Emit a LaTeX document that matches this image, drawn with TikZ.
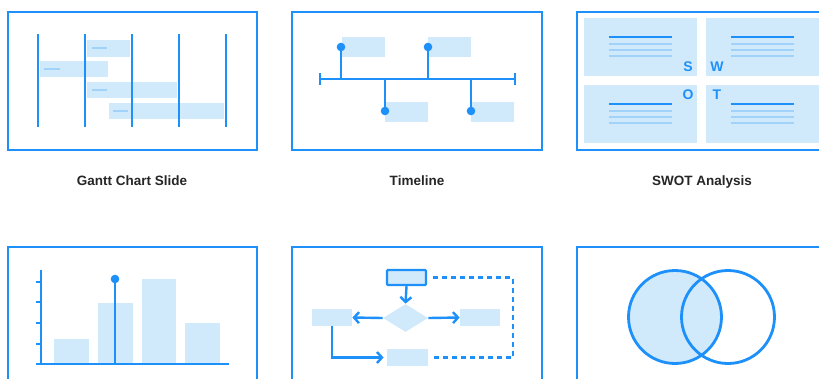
\documentclass[tikz,border=0pt]{standalone}
\usepackage{fontspec}
\setmainfont{Liberation Sans}
\usetikzlibrary{arrows.meta}
\usetikzlibrary{shapes.geometric}
\definecolor{azul}{RGB}{30,144,250}
\definecolor{azulclaro}{RGB}{208,234,252}
\definecolor{azulmedio}{RGB}{160,210,250}

\begin{document}
\begin{tikzpicture}[x=1pt, y=-1pt, thick,
	moldura/.style={draw=azul, line width=2.4pt},
	barra/.style={fill=azulclaro},
	traco/.style={azulmedio, line width=2pt},
	haste/.style={azul, line width=2.6pt},
	rotulo/.style={font=\fontsize{13.5}{16}\selectfont\bfseries, text=black!85, anchor=base},
	letra/.style={font=\fontsize{14}{16}\selectfont\bfseries, text=azul},
	caixa/.style={fill=azulclaro, inner sep=0pt, minimum width=40pt, minimum height=17pt},
	seta/.style={draw=azul, line width=2.4pt, -{Straight Barb[length=5pt,width=11pt]}}]
	\clip (0,0) rectangle (819,378);
	\fill[white] (0,0) rectangle (819,378);

	% Gantt...
		\draw[moldura] (8,12) rectangle (257,150);
		\fill[barra] (87,40) rectangle (130,57);
		\fill[barra] (40,61) rectangle (108,77);
		\fill[barra] (87,82) rectangle (177,98);
		\fill[barra] (109,103) rectangle (224,119);
		\draw[traco] (92,48) -- (107,48);
		\draw[traco] (44,69) -- (60,69);
		\draw[traco] (92,90) -- (107,90);
		\draw[traco] (113,111) -- (128,111);
		\foreach \x in {38,85,132,179,226}
			\draw[haste] (\x,34) -- (\x,127);
		\node[rotulo] (gantt) at (132,185) {Gantt Chart Slide};

	% Linha do tempo
		\draw[moldura] (292,12) rectangle (542,150);
		\fill[barra] (342,37) rectangle (385,57);
		\fill[barra] (428,37) rectangle (471,57);
		\fill[barra] (385,102) rectangle (428,122);
		\fill[barra] (471,102) rectangle (514,122);
		\draw[haste] (320,79) -- (515,79);
		\draw[haste] (320,73) -- (320,85);
		\draw[haste] (515,73) -- (515,85);
		\foreach \x/\y in {341/47, 428/47, 385/111, 471/111} {
			\draw[haste] (\x,79) -- (\x,\y);
			\fill[azul] (\x,\y) circle (4.3);
		}
		\node[rotulo] (linha) at (417,185) {Timeline};

	% SWOT
		\draw[moldura] (577,12) rectangle (840,150);
		\foreach \x/\y in {584/18, 706/18, 584/85, 706/85}
			\fill[barra] (\x,\y) rectangle +(113,58);
		\foreach \x/\y in {609/37, 731/37, 609/104, 731/104} {
			\draw[azul, line width=2.8pt] (\x,\y) -- +(63,0);
			\foreach \d in {6.5,12.5,19}
				\draw[traco] (\x,\y+\d) -- +(63,0);
		}
		\node[letra] (s) at (688,67) {S};
		\node[letra] (w) at (717,67) {W};
		\node[letra] (o) at (688,95) {O};
		\node[letra] (t) at (717,95) {T};
		\node[rotulo] (swot) at (702,185) {SWOT Analysis};

	% Grafico de barras
		\draw[moldura] (8,247) rectangle (257,400);
		\fill[barra] (54,339) rectangle (89,364);
		\fill[barra] (98,303) rectangle (133,364);
		\fill[barra] (142,279) rectangle (176,364);
		\fill[barra] (185,323) rectangle (220,364);
		\draw[azul, line width=2.4pt] (41,270) -- (41,364);
		\draw[azul, line width=2.4pt] (36,364) -- (229,364);
		\foreach \y in {282,302,323,344}
			\draw[azul, line width=2.4pt] (36,\y) -- (41,\y);
		\draw[azul, line width=2.4pt] (115,364) -- (115,279);
		\fill[azul] (115,279) circle (4.3);

	% Fluxograma
		\draw[moldura] (292,247) rectangle (542,400);
		\node[caixa, draw=azul, line width=2.4pt, rounded corners=1pt, minimum width=39pt, minimum height=15pt] (topo) at (406.5,277.5) {};
		\node[diamond, fill=azulclaro, inner sep=0pt, minimum width=45pt, minimum height=28pt] (decisao) at (405.5,318) {};
		\node[caixa] (esq) at (332,317.5) {};
		\node[caixa] (dir) at (480,317.5) {};
		\node[caixa, minimum width=41pt] (baixo) at (407.5,357.5) {};
		\coordinate (canto) at (513,357.5);
		\draw[seta] (topo.south) -- (decisao.north);
		\draw[seta] (decisao.west) -- (esq.east);
		\draw[seta] (decisao.east) -- (dir.west);
		\draw[seta, shorten >=3pt] (esq.south) |- (baixo.west);
		\draw[azul, line width=2.4pt, dash pattern=on 5pt off 4pt] ([xshift=6pt]topo.east) -| (canto) -- ([xshift=5pt]baixo.east);

	% Venn
		\draw[moldura] (577,247) rectangle (840,400);
		\fill[azulclaro] (675,317) circle (46.5);
		\draw[azul, line width=2.8pt] (675,317) circle (46.5);
		\draw[azul, line width=2.8pt] (728,317) circle (46.5);
\end{tikzpicture}
\end{document}
